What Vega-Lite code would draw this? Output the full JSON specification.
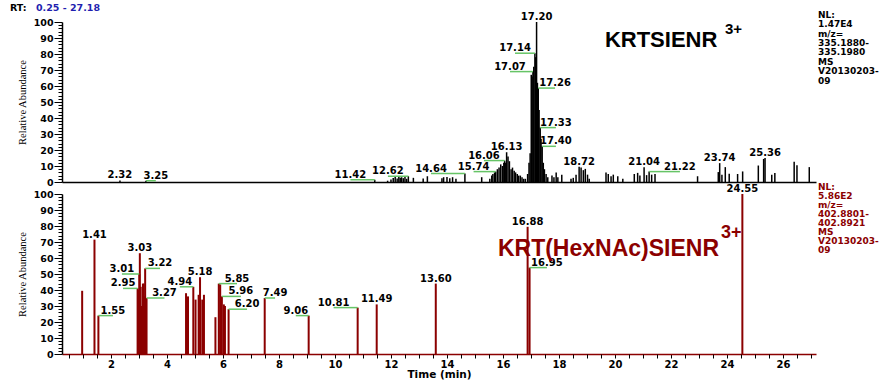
{
  "$schema": "https://vega.github.io/schema/vega-lite/v6.json",
  "padding": {"left": 9, "top": 3, "right": 0, "bottom": 0},
  "spacing": 12,
  "bounds": "flush",
  "config": {
    "view": {"stroke": null},
    "font": "DejaVu Sans",
    "axis": {"grid": false, "labelOverlap": false, "labelFont": "DejaVu Sans", "labelFontWeight": "bold", "labelColor": "black", "tickColor": "black", "domainColor": "black", "domainWidth": 1.5, "titleColor": "black"}
  },
  "datasets": {
    "top": [
      {"rt": 2.32, "ab": 1.0}, {"rt": 3.25, "ab": 0.8},
      {"rt": 11.42, "ab": 1.4}, {"rt": 11.88, "ab": 0.8}, {"rt": 12.0, "ab": 1.6}, {"rt": 12.08, "ab": 2.5}, {"rt": 12.15, "ab": 3.2}, {"rt": 12.22, "ab": 2.2}, {"rt": 12.28, "ab": 3.4}, {"rt": 12.33, "ab": 2.6}, {"rt": 12.38, "ab": 3.0}, {"rt": 12.44, "ab": 2.4}, {"rt": 12.5, "ab": 3.6}, {"rt": 12.56, "ab": 2.0}, {"rt": 12.62, "ab": 3.6}, {"rt": 12.8, "ab": 2.6}, {"rt": 13.15, "ab": 2.2}, {"rt": 13.3, "ab": 3.6}, {"rt": 13.82, "ab": 2.4}, {"rt": 13.88, "ab": 3.0}, {"rt": 14.0, "ab": 3.2}, {"rt": 14.1, "ab": 2.4}, {"rt": 14.2, "ab": 3.0}, {"rt": 14.32, "ab": 2.0}, {"rt": 14.64, "ab": 5.3}, {"rt": 15.24, "ab": 3.0},
      {"rt": 15.53, "ab": 2}, {"rt": 15.6, "ab": 4}, {"rt": 15.64, "ab": 5}, {"rt": 15.7, "ab": 6}, {"rt": 15.74, "ab": 6.5}, {"rt": 15.8, "ab": 8}, {"rt": 15.86, "ab": 9}, {"rt": 15.92, "ab": 11}, {"rt": 15.98, "ab": 10}, {"rt": 16.03, "ab": 12}, {"rt": 16.06, "ab": 13.4}, {"rt": 16.1, "ab": 12}, {"rt": 16.13, "ab": 18.6}, {"rt": 16.18, "ab": 16}, {"rt": 16.23, "ab": 13}, {"rt": 16.29, "ab": 8}, {"rt": 16.34, "ab": 9}, {"rt": 16.4, "ab": 7}, {"rt": 16.45, "ab": 6}, {"rt": 16.51, "ab": 5}, {"rt": 16.56, "ab": 4}, {"rt": 16.62, "ab": 4}, {"rt": 16.68, "ab": 3}, {"rt": 16.74, "ab": 2}, {"rt": 16.8, "ab": 2},
      {"rt": 16.88, "ab": 5}, {"rt": 16.93, "ab": 12}, {"rt": 16.97, "ab": 18}, {"rt": 17.01, "ab": 67}, {"rt": 17.04, "ab": 66}, {"rt": 17.07, "ab": 69}, {"rt": 17.1, "ab": 72}, {"rt": 17.14, "ab": 80.5}, {"rt": 17.17, "ab": 78}, {"rt": 17.2, "ab": 100}, {"rt": 17.23, "ab": 62}, {"rt": 17.26, "ab": 58.7}, {"rt": 17.29, "ab": 45}, {"rt": 17.33, "ab": 34}, {"rt": 17.36, "ab": 27}, {"rt": 17.4, "ab": 22.3}, {"rt": 17.44, "ab": 12}, {"rt": 17.48, "ab": 8}, {"rt": 17.54, "ab": 5}, {"rt": 17.6, "ab": 3},
      {"rt": 17.75, "ab": 4}, {"rt": 17.82, "ab": 3}, {"rt": 17.9, "ab": 6}, {"rt": 17.96, "ab": 3}, {"rt": 18.1, "ab": 4.5},
      {"rt": 18.43, "ab": 2}, {"rt": 18.51, "ab": 2.6}, {"rt": 18.61, "ab": 4.6}, {"rt": 18.72, "ab": 9.5}, {"rt": 18.79, "ab": 9}, {"rt": 18.87, "ab": 7.4}, {"rt": 18.94, "ab": 8.2}, {"rt": 19.02, "ab": 4.6}, {"rt": 19.08, "ab": 2},
      {"rt": 19.68, "ab": 6}, {"rt": 19.76, "ab": 5}, {"rt": 19.86, "ab": 3.6}, {"rt": 19.94, "ab": 4.6}, {"rt": 20.1, "ab": 3.6}, {"rt": 20.28, "ab": 2},
      {"rt": 20.69, "ab": 5}, {"rt": 20.81, "ab": 5.7}, {"rt": 20.89, "ab": 4}, {"rt": 21.04, "ab": 9.2}, {"rt": 21.13, "ab": 4.3}, {"rt": 21.22, "ab": 6.5}, {"rt": 21.31, "ab": 4.6}, {"rt": 21.43, "ab": 5},
      {"rt": 22.95, "ab": 3.6},
      {"rt": 23.69, "ab": 6.2}, {"rt": 23.74, "ab": 11.8}, {"rt": 23.82, "ab": 4.6}, {"rt": 23.94, "ab": 9.3}, {"rt": 24.08, "ab": 5.2}, {"rt": 24.38, "ab": 5}, {"rt": 24.56, "ab": 6.6},
      {"rt": 25.12, "ab": 10.3}, {"rt": 25.31, "ab": 14.4}, {"rt": 25.36, "ab": 15}, {"rt": 25.6, "ab": 4.6}, {"rt": 25.71, "ab": 5.7}, {"rt": 26.4, "ab": 12.6}, {"rt": 26.5, "ab": 10.5}, {"rt": 26.94, "ab": 9.3}
    ],
    "topLabels": [
      {"rt": 2.32, "ab": 1.0, "lx": 2.32}, {"rt": 3.25, "ab": 0.8, "lx": 3.6}, {"rt": 11.42, "ab": 1.4, "lx": 10.55}, {"rt": 12.62, "ab": 3.6, "lx": 11.89}, {"rt": 14.64, "ab": 5.3, "lx": 13.43}, {"rt": 15.74, "ab": 6.5, "lx": 14.95}, {"rt": 16.06, "ab": 13.4, "lx": 15.32}, {"rt": 16.13, "ab": 18.6, "lx": 16.13}, {"rt": 17.07, "ab": 69, "lx": 16.25}, {"rt": 17.14, "ab": 80.5, "lx": 16.43}, {"rt": 17.2, "ab": 100, "lx": 17.2}, {"rt": 17.26, "ab": 58.7, "lx": 17.86}, {"rt": 17.33, "ab": 34, "lx": 17.89}, {"rt": 17.4, "ab": 22.3, "lx": 17.89}, {"rt": 18.72, "ab": 9.5, "lx": 18.72}, {"rt": 21.04, "ab": 9.2, "lx": 21.04}, {"rt": 21.22, "ab": 6.5, "lx": 22.32}, {"rt": 23.74, "ab": 11.8, "lx": 23.74}, {"rt": 25.36, "ab": 15, "lx": 25.36}
    ],
    "bot": [
      {"rt": 0.97, "ab": 39.5}, {"rt": 1.41, "ab": 71.5}, {"rt": 1.55, "ab": 24}, {"rt": 2.95, "ab": 41}, {"rt": 2.98, "ab": 40}, {"rt": 3.01, "ab": 50}, {"rt": 3.03, "ab": 63}, {"rt": 3.06, "ab": 42}, {"rt": 3.1, "ab": 30}, {"rt": 3.14, "ab": 44}, {"rt": 3.17, "ab": 44}, {"rt": 3.2, "ab": 36}, {"rt": 3.22, "ab": 53.5}, {"rt": 3.27, "ab": 35},
      {"rt": 4.68, "ab": 38}, {"rt": 4.75, "ab": 36}, {"rt": 4.94, "ab": 42}, {"rt": 5.02, "ab": 34}, {"rt": 5.13, "ab": 37}, {"rt": 5.18, "ab": 48}, {"rt": 5.26, "ab": 34}, {"rt": 5.32, "ab": 37},
      {"rt": 5.73, "ab": 23}, {"rt": 5.85, "ab": 44}, {"rt": 5.9, "ab": 43.5}, {"rt": 5.96, "ab": 36}, {"rt": 6.03, "ab": 31}, {"rt": 6.07, "ab": 30}, {"rt": 6.2, "ab": 28},
      {"rt": 7.49, "ab": 35}, {"rt": 9.06, "ab": 24}, {"rt": 10.81, "ab": 29}, {"rt": 11.49, "ab": 31}, {"rt": 13.6, "ab": 44}, {"rt": 16.88, "ab": 79.5}, {"rt": 16.95, "ab": 54}, {"rt": 24.55, "ab": 100}
    ],
    "botLabels": [
      {"rt": 1.41, "ab": 71.5, "lx": 1.41}, {"rt": 1.55, "ab": 24, "lx": 2.07}, {"rt": 2.95, "ab": 41, "lx": 2.43}, {"rt": 3.01, "ab": 50, "lx": 2.39}, {"rt": 3.03, "ab": 63, "lx": 3.03}, {"rt": 3.22, "ab": 53.5, "lx": 3.75}, {"rt": 3.27, "ab": 35, "lx": 3.91}, {"rt": 4.94, "ab": 42, "lx": 4.46}, {"rt": 5.18, "ab": 48, "lx": 5.18}, {"rt": 5.85, "ab": 44, "lx": 6.5}, {"rt": 5.96, "ab": 36, "lx": 6.64}, {"rt": 6.2, "ab": 28, "lx": 6.86}, {"rt": 7.49, "ab": 35, "lx": 7.86}, {"rt": 9.06, "ab": 24, "lx": 8.6}, {"rt": 10.81, "ab": 29, "lx": 9.95}, {"rt": 11.49, "ab": 31, "lx": 11.49}, {"rt": 13.6, "ab": 44, "lx": 13.6}, {"rt": 16.88, "ab": 79.5, "lx": 16.88}, {"rt": 16.95, "ab": 54, "lx": 17.57}, {"rt": 24.55, "ab": 100, "lx": 24.55}
    ]
  },
  "vconcat": [
    {
      "width": 754,
      "height": 160,
      "resolve": {"axis": {"x": "independent", "y": "independent"}},
      "layer": [
        {
          "data": {"name": "top"},
          "mark": {"type": "rule", "color": "black", "strokeWidth": 1.5},
          "encoding": {
            "x": {"field": "rt", "type": "quantitative", "scale": {"domain": [0.25, 27.18], "nice": false, "zero": false},
                  "axis": {"orient": "bottom", "labels": false, "ticks": false, "title": null}},
            "y": {"field": "ab", "type": "quantitative", "scale": {"domain": [0, 100], "nice": false},
                  "axis": {"orient": "left", "values": [0,10,20,30,40,50,60,70,80,90,100], "tickSize": 8,
                           "labelFontSize": 9.5, "labelPadding": 1, "title": "Relative Abundance", "titleFont": "Liberation Sans Narrow", "titleFontWeight": "normal", "titleFontSize": 10.5, "titlePadding": 6}},
            "y2": {"datum": 0}
          }
        },
        {
          "data": {"name": "topLabels"},
          "mark": {"type": "rule", "color": "#66c466", "strokeWidth": 1.5},
          "encoding": {"x": {"field": "rt", "type": "quantitative", "axis": null}, "x2": {"field": "lx"},
                       "y": {"field": "ab", "type": "quantitative",
                             "axis": {"orient": "left", "values": [2,4,6,8,12,14,16,18,22,24,26,28,32,34,36,38,42,44,46,48,52,54,56,58,62,64,66,68,72,74,76,78,82,84,86,88,92,94,96,98], "tickSize": 4, "labels": false, "domain": false, "title": null}}}
        },
        {
          "data": {"name": "topLabels"},
          "mark": {"type": "text", "font": "DejaVu Sans", "fontWeight": "bold", "fontSize": 10, "baseline": "alphabetic", "dy": -2, "color": "black"},
          "encoding": {"x": {"field": "lx", "type": "quantitative", "axis": null}, "y": {"field": "ab", "type": "quantitative", "axis": null}, "text": {"field": "rt", "type": "quantitative", "format": ".2f"}}
        },
        {
          "data": {"values": [{"t": "KRTSIENR"}]},
          "mark": {"type": "text", "font": "Liberation Sans", "fontWeight": "bold", "fontSize": 22, "align": "left", "baseline": "alphabetic", "color": "black"},
          "encoding": {"x": {"datum": 19.64, "axis": null}, "y": {"datum": 84.4, "axis": null}, "text": {"field": "t"}}
        },
        {
          "data": {"values": [{"t": "3+"}]},
          "mark": {"type": "text", "font": "Liberation Sans", "fontWeight": "bold", "fontSize": 15, "align": "left", "baseline": "alphabetic", "color": "black"},
          "encoding": {"x": {"datum": 23.93, "axis": null}, "y": {"datum": 92.5, "axis": null}, "text": {"field": "t"}}
        },
        {
          "data": {"values": [{"t": "NL:\n1.47E4\nm/z=\n335.1880-\n335.1980\nMS\nV20130203-\n09"}]},
          "mark": {"type": "text", "font": "DejaVu Sans", "fontWeight": "bold", "fontSize": 9, "align": "left", "baseline": "top", "lineBreak": "\n", "lineHeight": 9.4, "color": "black"},
          "encoding": {"x": {"datum": 27.25, "axis": null}, "y": {"datum": 107, "axis": null}, "text": {"field": "t"}}
        },
        {
          "data": {"values": [{"t": "RT:"}]},
          "mark": {"type": "text", "font": "DejaVu Sans", "fontWeight": "bold", "fontSize": 9.5, "align": "left", "baseline": "middle", "color": "black"},
          "encoding": {"x": {"datum": -1.61, "axis": null}, "y": {"datum": 108.7, "axis": null}, "text": {"field": "t"}}
        },
        {
          "data": {"values": [{"t": "0.25 - 27.18"}]},
          "mark": {"type": "text", "font": "DejaVu Sans", "fontWeight": "bold", "fontSize": 9.5, "align": "left", "baseline": "middle", "color": "#1f1fb0"},
          "encoding": {"x": {"datum": -0.68, "axis": null}, "y": {"datum": 108.7, "axis": null}, "text": {"field": "t"}}
        }
      ]
    },
    {
      "width": 754,
      "height": 160,
      "resolve": {"axis": {"x": "independent", "y": "independent"}},
      "layer": [
        {
          "data": {"name": "bot"},
          "mark": {"type": "rule", "color": "#8b0000", "strokeWidth": 2},
          "encoding": {
            "x": {"field": "rt", "type": "quantitative", "scale": {"domain": [0.25, 27.18], "nice": false, "zero": false},
                  "axis": {"orient": "bottom", "values": [2,4,6,8,10,12,14,16,18,20,22,24,26], "format": "d",
                           "tickSize": 4, "labelFontSize": 10, "labelPadding": 1, "domainColor": "#8b0000",
                           "title": "Time (min)", "titleFont": "DejaVu Sans", "titleFontWeight": "bold", "titleFontSize": 10.5, "titlePadding": 0}},
            "y": {"field": "ab", "type": "quantitative", "scale": {"domain": [0, 100], "nice": false},
                  "axis": {"orient": "left", "values": [0,10,20,30,40,50,60,70,80,90,100], "tickSize": 8,
                           "labelFontSize": 9.5, "labelPadding": 1, "title": "Relative Abundance", "titleFont": "Liberation Sans Narrow", "titleFontWeight": "normal", "titleFontSize": 10.5, "titlePadding": 6}},
            "y2": {"datum": 0}
          }
        },
        {
          "data": {"name": "botLabels"},
          "mark": {"type": "rule", "color": "#66c466", "strokeWidth": 1.5},
          "encoding": {"x": {"field": "rt", "type": "quantitative",
                             "axis": {"orient": "bottom", "values": [0.5,1,1.5,2.5,3,3.5,4.5,5,5.5,6.5,7,7.5,8.5,9,9.5,10.5,11,11.5,12.5,13,13.5,14.5,15,15.5,16.5,17,17.5,18.5,19,19.5,20.5,21,21.5,22.5,23,23.5,24.5,25,25.5,26.5,27], "tickSize": 4, "labels": false, "domain": false, "title": null}},
                       "x2": {"field": "lx"},
                       "y": {"field": "ab", "type": "quantitative",
                             "axis": {"orient": "left", "values": [2,4,6,8,12,14,16,18,22,24,26,28,32,34,36,38,42,44,46,48,52,54,56,58,62,64,66,68,72,74,76,78,82,84,86,88,92,94,96,98], "tickSize": 4, "labels": false, "domain": false, "title": null}}}
        },
        {
          "data": {"name": "botLabels"},
          "mark": {"type": "text", "font": "DejaVu Sans", "fontWeight": "bold", "fontSize": 10, "baseline": "alphabetic", "dy": -2, "color": "black"},
          "encoding": {"x": {"field": "lx", "type": "quantitative", "axis": null}, "y": {"field": "ab", "type": "quantitative", "axis": null}, "text": {"field": "rt", "type": "quantitative", "format": ".2f"}}
        },
        {
          "data": {"values": [{"t": "KRT(HexNAc)SIENR"}]},
          "mark": {"type": "text", "font": "Liberation Sans", "fontWeight": "bold", "fontSize": 23, "align": "left", "baseline": "alphabetic", "color": "#8b0000"},
          "encoding": {"x": {"datum": 15.82, "axis": null}, "y": {"datum": 61.2, "axis": null}, "text": {"field": "t"}}
        },
        {
          "data": {"values": [{"t": "3+"}]},
          "mark": {"type": "text", "font": "Liberation Sans", "fontWeight": "bold", "fontSize": 18, "align": "left", "baseline": "alphabetic", "color": "#8b0000"},
          "encoding": {"x": {"datum": 23.79, "axis": null}, "y": {"datum": 72.4, "axis": null}, "text": {"field": "t"}}
        },
        {
          "data": {"values": [{"t": "NL:\n5.86E2\nm/z=\n402.8801-\n402.8921\nMS\nV20130203-\n09"}]},
          "mark": {"type": "text", "font": "DejaVu Sans", "fontWeight": "bold", "fontSize": 9, "align": "left", "baseline": "top", "lineBreak": "\n", "lineHeight": 9.1, "color": "#8b0000"},
          "encoding": {"x": {"datum": 27.25, "axis": null}, "y": {"datum": 107, "axis": null}, "text": {"field": "t"}}
        }
      ]
    }
  ]
}
